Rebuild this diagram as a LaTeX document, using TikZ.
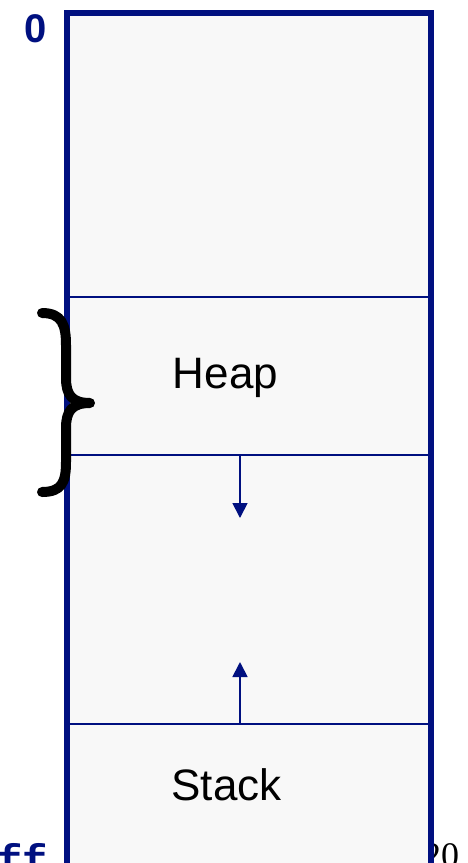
\documentclass[tikz,border=0pt]{standalone}
\usepackage{fontspec}
\setmainfont{Liberation Sans}
\newfontfamily\addrfont{Liberation Mono}
\newfontfamily\pagefont{Liberation Serif}
\usetikzlibrary{arrows.meta}
\definecolor{memblue}{RGB}{0,16,128}
\definecolor{cellfill}{RGB}{248,248,248}
\tikzset{
  column/.style={draw=memblue, line width=6pt, fill=cellfill},
  divider/.style={draw=memblue, line width=1.8pt},
  growth/.style={draw=memblue, line width=1.8pt, -{Triangle[length=15pt,width=15pt]}},
  seglabel/.style={font=\fontsize{44}{50}\selectfont, anchor=base, inner sep=0pt},
  addr/.style={font=\addrfont\bfseries\fontsize{42}{48}\selectfont, text=memblue, inner sep=0pt},
  lowaddr/.style={font=\bfseries\fontsize{40}{46}\selectfont, text=memblue, inner sep=0pt},
  brace/.style={draw=black, line width=10pt, line cap=round, line join=round}
}
\begin{document}
\begin{tikzpicture}[x=1pt, y=-1pt]
\useasboundingbox (0,0) rectangle (468,863);
% page number, partly hidden behind the column
\node[font=\pagefont\fontsize{36}{40}\selectfont, anchor=base west, inner sep=0pt] (pagenum) at (423,867) {20};
% address space column
\draw[column] (66.5,13) rectangle (430.5,900);
% segment boundaries
\coordinate (heaptopL) at (66.5,297);
\coordinate (heaptopR) at (430.5,297);
\coordinate (heapbotL) at (66.5,455);
\coordinate (heapbotR) at (430.5,455);
\coordinate (stacktopL) at (66.5,724);
\coordinate (stacktopR) at (430.5,724);
\draw[divider] (heaptopL) -- (heaptopR);
\draw[divider] (heapbotL) -- (heapbotR);
\draw[divider] (stacktopL) -- (stacktopR);
% growth arrows
\coordinate (heapedge) at (240,455);
\coordinate (heapgrow) at (240,518);
\coordinate (stackedge) at (240,724);
\coordinate (stackgrow) at (240,662);
\draw[growth] (heapedge) -- (heapgrow);
\draw[growth] (stackedge) -- (stackgrow);
% segment names
\node[seglabel] (heap) at (225.5,388) {Heap};
\node[seglabel] (stack) at (226.5,800) {Stack};
% addresses
\node[lowaddr, anchor=base] (low) at (36,42) {0};
\node[addr, anchor=base east] (high) at (48,874) {0xffffffff};
% brace around the heap
\coordinate (btop) at (42,313);
\coordinate (bmid) at (90,403);
\coordinate (bbot) at (42,492);
\draw[brace] (btop) .. controls (62,313) and (66,325) .. (66,345)
  -- (66,378) .. controls (66,395) and (72,403) .. (bmid)
  .. controls (72,403) and (66,411) .. (66,428)
  -- (66,462) .. controls (66,482) and (62,492) .. (bbot);
\end{tikzpicture}
\end{document}
